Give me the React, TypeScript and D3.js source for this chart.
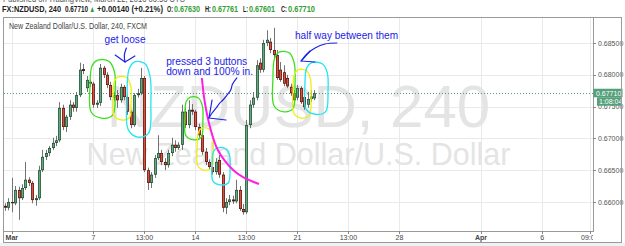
import React from 'react';
import * as d3 from 'd3';

// ---- Data (FX:NZDUSD, 240 min, FXCM) ----
const opens = [
  0.6594, 0.6591, 0.6600, 0.6598, 0.6619, 0.6606, 0.6622, 0.6635, 0.6630, 0.6603,
  0.6606, 0.6650, 0.6671, 0.6677, 0.6685, 0.6693, 0.6697, 0.6748, 0.6718, 0.6734,
  0.6753, 0.6748, 0.6768, 0.6809, 0.6779, 0.6789, 0.6786, 0.6753, 0.6756, 0.6811,
  0.6800, 0.6784, 0.6764, 0.6768, 0.6760, 0.6781, 0.6765, 0.6742, 0.6721, 0.6768,
  0.6771, 0.6795, 0.6650, 0.6630, 0.6643, 0.6669, 0.6677, 0.6663, 0.6658, 0.6677,
  0.6690, 0.6685, 0.6690, 0.6742, 0.6721, 0.6745, 0.6742, 0.6718, 0.6705, 0.6679,
  0.6663, 0.6655, 0.6647, 0.6666, 0.6643, 0.6591, 0.6600, 0.6604, 0.6601, 0.6619,
  0.6589, 0.6584, 0.6721, 0.6753, 0.6764, 0.6819, 0.6808, 0.6850, 0.6852, 0.6839,
  0.6831, 0.6808, 0.6804, 0.6795, 0.6781, 0.6771, 0.6764, 0.6779, 0.6765, 0.6753,
  0.6762, 0.6763,
];
const highs = [
  0.6598, 0.6606, 0.6638, 0.6625, 0.6624, 0.6628, 0.6663, 0.6639, 0.6633, 0.6611,
  0.6657, 0.6682, 0.6682, 0.6688, 0.6701, 0.6704, 0.6757, 0.6753, 0.6737, 0.6760,
  0.6757, 0.6773, 0.6819, 0.6817, 0.6798, 0.6793, 0.6789, 0.6760, 0.6817, 0.6814,
  0.6804, 0.6789, 0.6773, 0.6776, 0.6786, 0.6784, 0.6768, 0.6745, 0.6771, 0.6778,
  0.6811, 0.6798, 0.6654, 0.6647, 0.6674, 0.6705, 0.6682, 0.6669, 0.6682, 0.6701,
  0.6697, 0.6694, 0.6753, 0.6748, 0.6760, 0.6754, 0.6745, 0.6723, 0.6710, 0.6685,
  0.6667, 0.6669, 0.6669, 0.6674, 0.6647, 0.6606, 0.6611, 0.6610, 0.6635, 0.6625,
  0.6597, 0.6729, 0.6760, 0.6773, 0.6823, 0.6826, 0.6855, 0.6870, 0.6858, 0.6874,
  0.6839, 0.6820, 0.6815, 0.6800, 0.6786, 0.6776, 0.6784, 0.6782, 0.6768, 0.6773,
  0.6776, 0.6776,
];
const lows = [
  0.6586, 0.6587, 0.6584, 0.6595, 0.6572, 0.6603, 0.6619, 0.6625, 0.6598, 0.6594,
  0.6603, 0.6647, 0.6666, 0.6672, 0.6682, 0.6688, 0.6694, 0.6713, 0.6710, 0.6729,
  0.6742, 0.6742, 0.6765, 0.6801, 0.6773, 0.6781, 0.6748, 0.6748, 0.6751, 0.6795,
  0.6779, 0.6760, 0.6759, 0.6748, 0.6756, 0.6760, 0.6737, 0.6716, 0.6718, 0.6764,
  0.6768, 0.6647, 0.6619, 0.6622, 0.6638, 0.6666, 0.6658, 0.6650, 0.6654, 0.6672,
  0.6679, 0.6682, 0.6682, 0.6716, 0.6716, 0.6737, 0.6713, 0.6701, 0.6674, 0.6658,
  0.6652, 0.6643, 0.6643, 0.6638, 0.6584, 0.6581, 0.6595, 0.6597, 0.6598, 0.6586,
  0.6580, 0.6581, 0.6716, 0.6748, 0.6760, 0.6803, 0.6804, 0.6845, 0.6834, 0.6826,
  0.6792, 0.6789, 0.6782, 0.6779, 0.6767, 0.6756, 0.6760, 0.6754, 0.6745, 0.6748,
  0.6757, 0.6760,
];
const closes = [
  0.6591, 0.6600, 0.6598, 0.6619, 0.6606, 0.6622, 0.6635, 0.6630, 0.6603, 0.6606,
  0.6650, 0.6671, 0.6677, 0.6685, 0.6693, 0.6697, 0.6748, 0.6718, 0.6734, 0.6753,
  0.6748, 0.6768, 0.6808, 0.6806, 0.6792, 0.6786, 0.6753, 0.6756, 0.6811, 0.6800,
  0.6784, 0.6765, 0.6768, 0.6760, 0.6781, 0.6765, 0.6742, 0.6721, 0.6768, 0.6771,
  0.6795, 0.6650, 0.6630, 0.6643, 0.6669, 0.6677, 0.6663, 0.6658, 0.6677, 0.6690,
  0.6685, 0.6690, 0.6742, 0.6721, 0.6745, 0.6742, 0.6718, 0.6705, 0.6679, 0.6663,
  0.6655, 0.6647, 0.6663, 0.6643, 0.6591, 0.6600, 0.6604, 0.6601, 0.6619, 0.6589,
  0.6584, 0.6721, 0.6753, 0.6764, 0.6815, 0.6808, 0.6850, 0.6855, 0.6839, 0.6831,
  0.6795, 0.6792, 0.6786, 0.6782, 0.6771, 0.6760, 0.6779, 0.6757, 0.6749, 0.6762,
  0.6766, 0.6771,
];
const priceTicks = [0.66, 0.665, 0.67, 0.675, 0.68, 0.685];
const timeTickIndex = [2, 26, 41, 56, 71, 86, 101, 116, 140, 158, 172];
const timeTickLabels = ['Mar', '7', '13:00', '14', '13:00', '21', '13:00', '28', 'Apr', '6', '09:00'];
const boldTimeLabels = ['Mar', 'Apr'];
const lastPrice = 0.6771;
const countdown = '1:08:04';

// ---- Annotations (in candle-index / price space) ----
const blobs = [
  { color: '#3ae01c', i0: 25, i1: 32.4, pTop: 0.6823, pBot: 0.6732 },
  { color: '#eeee10', i0: 31.8, i1: 37.1, pTop: 0.6797, pBot: 0.6729 },
  { color: '#22e4f2', i0: 35.9, i1: 42.9, pTop: 0.6820, pBot: 0.6702 },
  { color: '#3ae01c', i0: 52.9, i1: 58.2, pTop: 0.6765, pBot: 0.6698 },
  { color: '#eeee10', i0: 56.5, i1: 61.2, pTop: 0.6716, pBot: 0.6650 },
  { color: '#22e4f2', i0: 60.9, i1: 66.2, pTop: 0.6685, pBot: 0.6627 },
  { color: '#3ae01c', i0: 78.8, i1: 85.3, pTop: 0.6836, pBot: 0.6742 },
  { color: '#eeee10', i0: 84.7, i1: 90.0, pTop: 0.6808, pBot: 0.6732 },
  { color: '#22e4f2', i0: 88.2, i1: 95.0, pTop: 0.6819, pBot: 0.6738 },
];
const blobTemplate: [number, number][] = [
  [0.3, 0.0], [0.75, 0.02], [0.97, 0.2], [1.0, 0.55], [0.9, 0.95],
  [0.45, 1.0], [0.05, 0.9], [0.0, 0.45], [0.08, 0.1],
];
const magentaCurve: [number, number][] = [
  [57.9, 0.6795], [58.8, 0.67557], [60.3, 0.67179], [62.6, 0.66818],
  [67.1, 0.66503], [70.0, 0.66393], [74.7, 0.66283],
];
const arrows: { shaft: [number, number][]; head: [number, number][] }[] = [
  {
    shaft: [[68.2, 0.6795], [66.9, 0.6785], [66.4, 0.67761], [65.3, 0.67682], [64.1, 0.67604],
      [63.2, 0.67557], [62.1, 0.67478], [60.9, 0.67399], [60.0, 0.67321]],
    head: [[60.9, 0.67604], [60.0, 0.67321], [65.0, 0.67289]],
  },
  {
    shaft: [[97.6, 0.6850], [94.1, 0.68484], [91.2, 0.68421], [88.8, 0.68327], [87.1, 0.68217]],
    head: [[89.7, 0.68374], [87.1, 0.68217], [91.2, 0.68201]],
  },
  {
    shaft: [[35.7, 0.68421], [35.1, 0.68311], [35.3, 0.68201]],
    head: [[32.4, 0.68311], [35.3, 0.68201], [38.2, 0.68296]],
  },
];
const notes = [
  { text: 'get loose', i: 35.3, p: 0.6850, anchor: 'middle', len: 41 },
  { text: 'pressed 3 buttons', i: 47.4, p: 0.68154, anchor: 'start', len: 81 },
  { text: 'down and 100% in.', i: 47.4, p: 0.67997, anchor: 'start', len: 87 },
  { text: 'half way between them', i: 85.3, p: 0.68563, anchor: 'start', len: 103 },
];

const FONT = 'Liberation Sans, Arial, Helvetica, sans-serif';
const W = 625;
const H = 246;
const plot = { left: 4, right: 593, top: 17, bottom: 231 };

export default function App() {
  const x = d3.scaleLinear().domain([0, 171]).range([5, 5 + 171 * 3.4]);
  const y = d3.scaleLinear().domain([0.66, 0.685]).range([202, 43]);
  const line = d3.line<[number, number]>().x((d) => x(d[0])).y((d) => y(d[1]));
  const smooth = d3.line<[number, number]>().x((d) => x(d[0])).y((d) => y(d[1])).curve(d3.curveCatmullRom.alpha(0.5));
  const blobLine = d3.line<[number, number]>().curve(d3.curveCatmullRomClosed.alpha(0.5));
  const yLast = y(lastPrice);
  const cxMid = (plot.left + plot.right) / 2;

  const header = [
    { t: 'FX:NZDUSD, 240', x: 2, w: 59, bold: true, fill: '#222' },
    { t: '0.67710', x: 65, w: 23, bold: true, fill: '#222' },
    { t: '\u25B2', x: 89.5, w: 5.5, bold: false, fill: '#2e9b2e' },
    { t: '+0.00140 (+0.21%)', x: 97, w: 66, bold: true, fill: '#222' },
    { t: 'O:', x: 167, w: 6, bold: true, fill: '#222' },
    { t: '0.67630', x: 174, w: 26, bold: true, fill: '#33a033' },
    { t: 'H:', x: 205, w: 6, bold: true, fill: '#222' },
    { t: '0.67761', x: 212, w: 26, bold: true, fill: '#33a033' },
    { t: 'L:', x: 243, w: 5, bold: true, fill: '#222' },
    { t: '0.67601', x: 249, w: 26, bold: true, fill: '#33a033' },
    { t: 'C:', x: 281, w: 6, bold: true, fill: '#222' },
    { t: '0.67710', x: 288, w: 27, bold: true, fill: '#33a033' },
  ];

  return (
    <svg width={W} height={H} style={{ position: 'absolute', left: 0, top: 0, background: '#fff' }} fontFamily={FONT}>
      <defs>
        <clipPath id="plotClip">
          <rect x={plot.left} y={plot.top} width={plot.right - plot.left} height={plot.bottom - plot.top} />
        </clipPath>
        <clipPath id="timeClip">
          <rect x={plot.left} y={plot.bottom} width={plot.right - plot.left} height={12} />
        </clipPath>
      </defs>
      <rect x={0} y={0} width={W} height={H} fill="#fff" />
      <rect x={0} y={243} width={W} height={3} fill="#eef1f5" />

      {/* header */}
      <text x={3} y={1.5} fontSize={9} fill="#555" textLength={182} lengthAdjust="spacingAndGlyphs">
        Published on TradingView, March 22, 2016 03:53 UTC
      </text>
      {header.map((h, k) => (
        <text key={k} x={h.x} y={11.5} fontSize={9} fontWeight={h.bold ? 'bold' : 'normal'} fill={h.fill}
          textLength={h.w} lengthAdjust="spacingAndGlyphs">{h.t}</text>
      ))}

      {/* grid */}
      <g stroke="#e9e9e9" strokeWidth={1}>
        {priceTicks.map((p) => (
          <line key={p} x1={plot.left} x2={plot.right} y1={Math.round(y(p)) + 0.5} y2={Math.round(y(p)) + 0.5} />
        ))}
        {timeTickIndex.map((t) => (
          <line key={t} x1={Math.round(x(t)) + 0.5} x2={Math.round(x(t)) + 0.5} y1={plot.top} y2={plot.bottom} />
        ))}
      </g>

      <g clipPath="url(#plotClip)">
        {/* watermark */}
        <text x={cxMid} y={127} textAnchor="middle" fontSize={60} fill="#e4e4e4">NZDUSD, 240</text>
        <text x={cxMid} y={165} textAnchor="middle" fontSize={30.5} fill="#e4e4e4">New Zealand Dollar/U.S. Dollar</text>

        {/* legend title */}
        <text x={9} y={29} fontSize={9} fill="#444" textLength={138} lengthAdjust="spacingAndGlyphs">
          New Zealand Dollar/U.S. Dollar, 240, FXCM
        </text>

        {/* last price line */}
        <line x1={plot.left} x2={plot.right} y1={Math.round(yLast) + 0.5} y2={Math.round(yLast) + 0.5}
          stroke="#4f9a78" strokeDasharray="1,2" strokeWidth={1} />

        {/* candles */}
        {opens.map((o, i) => {
          const c = closes[i];
          const up = c >= o;
          const cx = Math.round(x(i)) + 0.5;
          const top = y(Math.max(o, c));
          const bot = y(Math.min(o, c));
          const h = Math.max(1, bot - top);
          return (
            <g key={i}>
              <line x1={cx} x2={cx} y1={y(highs[i])} y2={y(lows[i])} stroke="#737375" strokeWidth={1} />
              <rect x={cx - 1.5} y={top} width={3} height={h} fill={up ? '#225437' : '#5b1a13'} />
              {h > 2 && (
                <rect x={cx - 0.8} y={top + 0.8} width={1.6} height={h - 1.6} fill={up ? '#6ba583' : '#d75442'} />
              )}
            </g>
          );
        })}

        {/* annotations */}
        {blobs.map((b, k) => {
          const x0 = x(b.i0), x1 = x(b.i1), y0 = y(b.pTop), y1 = y(b.pBot);
          const pts = blobTemplate.map(([u, v]) => [x0 + u * (x1 - x0), y0 + v * (y1 - y0)] as [number, number]);
          return <path key={k} d={blobLine(pts) || ''} fill="none" stroke={b.color} strokeWidth={1.3} />;
        })}
        <path d={smooth(magentaCurve) || ''} fill="none" stroke="#ff1ee8" strokeWidth={2} />
        {arrows.map((a, k) => (
          <g key={k} fill="none" stroke="#1c22e6" strokeWidth={1.2} strokeLinejoin="round" strokeLinecap="round">
            <path d={smooth(a.shaft) || ''} />
            <path d={line(a.head) || ''} />
          </g>
        ))}
        {notes.map((n, k) => (
          <text key={k} x={x(n.i)} y={y(n.p)} textAnchor={n.anchor as any} fontSize={10} fill="#1c22e6"
            textLength={n.len} lengthAdjust="spacingAndGlyphs">{n.text}</text>
        ))}
      </g>

      {/* price axis */}
      <line x1={plot.right + 0.5} x2={plot.right + 0.5} y1={plot.top} y2={plot.bottom + 1} stroke="#9a9a9a" />
      {priceTicks.map((p) => (
        <g key={p}>
          <line x1={plot.right} x2={plot.right + 3} y1={Math.round(y(p)) + 0.5} y2={Math.round(y(p)) + 0.5} stroke="#888" />
          <text x={598} y={y(p) + 2.5} fontSize={7} fill="#555">{d3.format('.5f')(p)}</text>
        </g>
      ))}
      <rect x={plot.right + 0.5} y={yLast - 4.5} width={29} height={8.5} fill="#55a07a" />
      <text x={596} y={yLast + 2.3} fontSize={7} fill="#fff">{d3.format('.5f')(lastPrice)}</text>
      <rect x={597} y={yLast + 4} width={25} height={8.5} fill="#55a07a" />
      <text x={599} y={yLast + 10.8} fontSize={7} fill="#fff">{countdown}</text>

      {/* time axis */}
      <line x1={plot.left} x2={plot.right} y1={plot.bottom + 0.5} y2={plot.bottom + 0.5} stroke="#9a9a9a" />
      <g clipPath="url(#timeClip)">
        {timeTickIndex.map((t, k) => (
          <g key={t}>
            <line x1={Math.round(x(t)) + 0.5} x2={Math.round(x(t)) + 0.5} y1={plot.bottom} y2={plot.bottom + 3} stroke="#888" />
            <text x={x(t)} y={240} textAnchor="middle" fontSize={7}
              fontWeight={boldTimeLabels.includes(timeTickLabels[k]) ? 'bold' : 'normal'} fill="#444">
              {timeTickLabels[k]}
            </text>
          </g>
        ))}
      </g>

      {/* frame */}
      <rect x={3.5} y={17.5} width={618} height={225} fill="none" stroke="#9a9a9a" />
    </svg>
  );
}
